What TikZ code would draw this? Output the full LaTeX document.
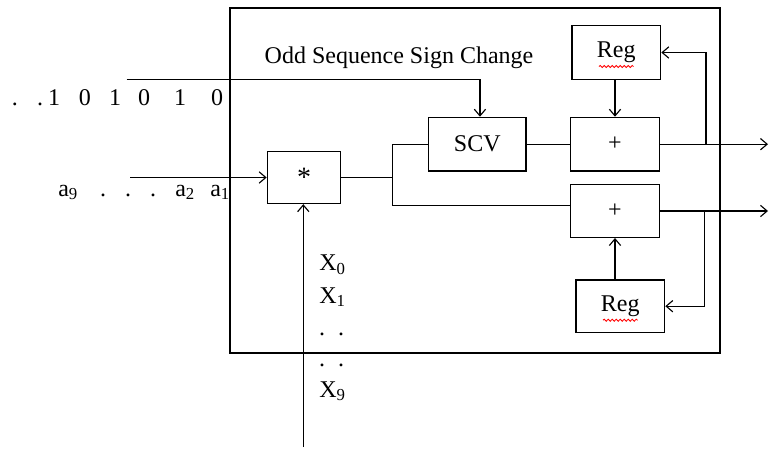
\documentclass[tikz,border=0pt]{standalone}
\usepackage{fontspec}
\setmainfont{Liberation Serif}
\usetikzlibrary{arrows.meta,decorations.pathmorphing}
\begin{document}
\begin{tikzpicture}[x=0.75pt,y=-0.75pt,
  box/.style={draw, line width=1pt, rectangle, inner sep=0pt, font=\fontsize{18}{21}\selectfont},
  conn/.style={line width=0.85pt},
  arr/.style={conn, -{Straight Barb[length=5pt,width=8.5pt,line width=0.85pt]}},
  lbl/.style={inner sep=0pt, font=\fontsize{18}{21}\selectfont},
  squig/.style={red, line width=0.6pt, decorate, decoration={snake, amplitude=0.8pt, segment length=3pt}}]
\useasboundingbox (0,0) rectangle (769,450);
% outer frame
\node[draw, line width=1pt, minimum width=367.5pt, minimum height=258.75pt, inner sep=0pt] (frame) at (475,180.5) {};
% blocks
\node[box, minimum width=66.5pt, minimum height=40.2pt] (reg1) at (616.3,52.5) {\raisebox{-2pt}{Reg}};
\node[box, minimum width=73pt, minimum height=40.2pt] (scv) at (477.3,144.2) {SCV};
\node[box, minimum width=66.5pt, minimum height=40.2pt] (plus1) at (615,144.2) {\raisebox{-1pt}{+}};
\node[box, minimum width=55pt, minimum height=39pt] (mul) at (304,177.5) {\raisebox{-5pt}{\fontsize{21}{21}\selectfont *}};
\node[box, minimum width=66.5pt, minimum height=39.5pt] (plus2) at (615,211) {\raisebox{-1pt}{+}};
\node[box, minimum width=66.5pt, minimum height=39.2pt] (reg2) at (620.3,306.2) {\raisebox{-2pt}{Reg}};
% spell-check squiggles under Reg
\draw[squig] ([xshift=-13pt,yshift=-10.5pt]reg1.center) -- ([xshift=13pt,yshift=-10.5pt]reg1.center);
\draw[squig] ([xshift=-13pt,yshift=-10.5pt]reg2.center) -- ([xshift=13pt,yshift=-10.5pt]reg2.center);
% title
\node[lbl, anchor=base] (title) at (399,63.3) {Odd Sequence Sign Change};
% bit sequence
\foreach \x/\t [count=\i] in {15/., 40/., 54/1, 85/0, 115/1, 144/0, 180/1, 217/0}
  \node[lbl, anchor=base, name=bit\i] at (\x,105) {\t};
% a labels
\node[lbl, anchor=base west] (a9) at (58,196) {a\textsubscript{9}};
\foreach \x [count=\i] in {103,128,153}
  \node[lbl, anchor=base, name=adot\i] at (\x,196) {.};
\node[lbl, anchor=base west] (a2) at (175,196) {a\textsubscript{2}};
\node[lbl, anchor=base west] (a1) at (210,196) {a\textsubscript{1}};
% X labels
\node[lbl, anchor=base west] (x0) at (319,270.7) {X\textsubscript{0}};
\node[lbl, anchor=base west] (x1) at (319,303) {X\textsubscript{1}};
\node[lbl, anchor=base] (xd1) at (322,335.5) {.};
\node[lbl, anchor=base] (xd2) at (341,335.5) {.};
\node[lbl, anchor=base] (xd3) at (322,366.5) {.};
\node[lbl, anchor=base] (xd4) at (341,366.5) {.};
\node[lbl, anchor=base west] (x9) at (319,397) {X\textsubscript{9}};
% coordinates
\coordinate (oddS) at (126.7,79.3);
\coordinate (ain) at (130,177.5);
\coordinate (bx) at (392.7,0);
\coordinate (lowy) at (0,205.5);
\coordinate (out1) at (768,144.2);
\coordinate (out2) at (768,211);
\coordinate (fb1) at (706,0);
\coordinate (fb2) at (704.3,0);
\coordinate (xin) at (303.3,447);
% connectors
\draw[arr] (oddS) -| ([xshift=2pt]scv.north);
\draw[arr] (ain) -- (mul.west);
\draw[conn] (mul.east) -- (mul.east -| bx);
\draw[conn] (scv.west) -| (bx |- lowy) -- (plus2.west |- lowy);
\draw[conn] (scv.east) -- (plus1.west);
\draw[arr] (plus1.east) -- (out1);
\draw[arr] (fb1 |- plus1.east) |- (reg1.east);
\draw[arr] (reg1.south -| plus1.north) -- (plus1.north);
\draw[arr] (plus2.east) -- (out2);
\draw[arr] (fb2 |- plus2.east) |- (reg2.east);
\draw[arr] (plus2.south |- reg2.north) -- (plus2.south);
\draw[arr] (xin) -- (mul.south -| xin);
\end{tikzpicture}
\end{document}
